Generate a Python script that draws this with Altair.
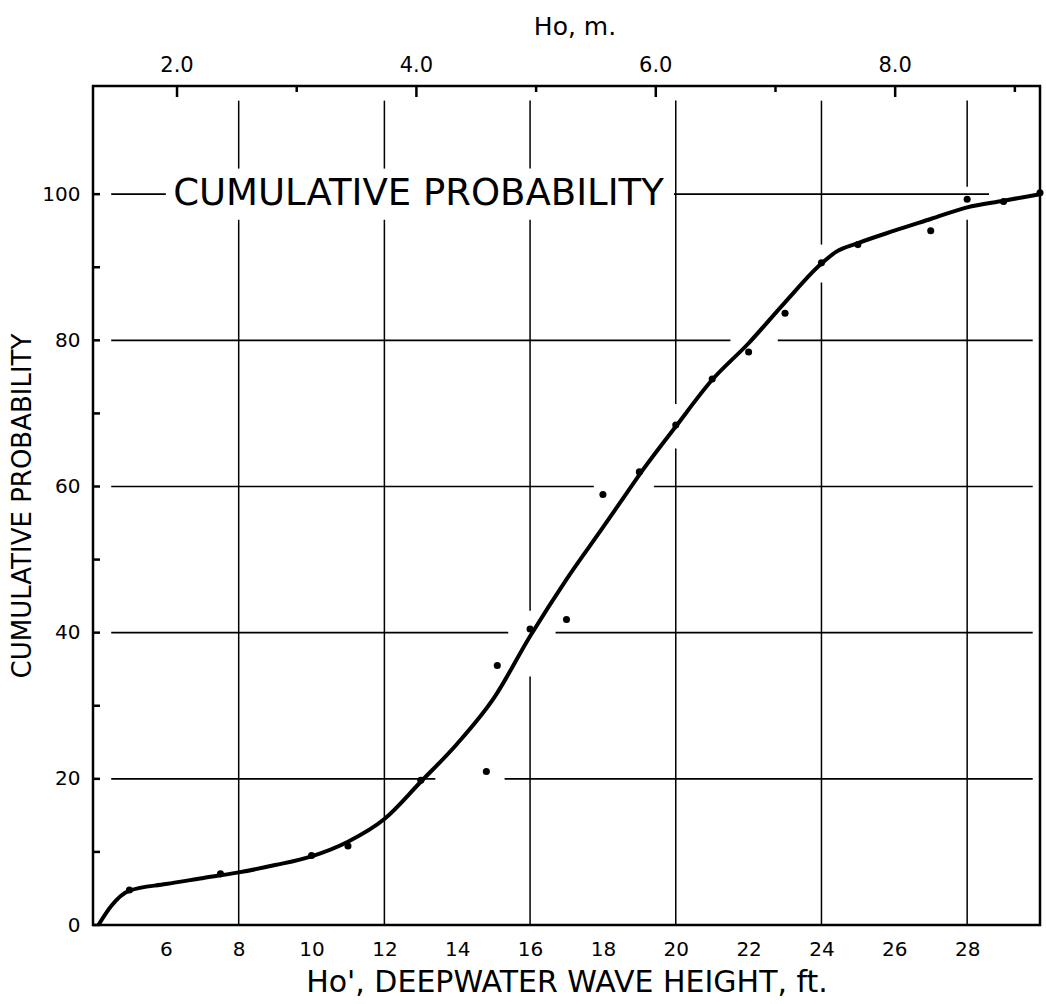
import altair as alt
import pandas as pd

# ---- data ----
# smooth fitted curve (ft, cumulative %)
curve_x = [4.15, 4.5, 5.0, 6.0, 7.0, 8.0, 9.0, 10.0, 11.0, 12.0, 13.0, 14.0, 15.0, 16.0,
           17.0, 18.0, 18.5, 19.0, 20.0, 21.0, 22.0, 23.0, 24.0, 24.4, 25.0, 26.0, 27.0,
           28.0, 29.0, 30.0]
curve_y = [0.0, 2.6, 4.7, 5.6, 6.4, 7.2, 8.2, 9.4, 11.4, 14.5, 19.6, 24.8, 31.0, 39.5,
           47.3, 54.4, 58.0, 61.6, 68.2, 74.6, 79.6, 85.2, 90.5, 92.1, 93.3, 95.0, 96.6,
           98.2, 99.1, 100.0]

# observed points
pt_x = [5.0, 7.5, 10.0, 11.0, 13.0, 14.8, 15.1, 16.0, 17.0, 18.0, 19.0, 20.0, 21.0,
        22.0, 23.0, 24.0, 25.0, 27.0, 28.0, 29.0, 30.0]
pt_y = [4.8, 7.0, 9.5, 10.8, 19.8, 21.0, 35.5, 40.5, 41.8, 58.9, 62.0, 68.4, 74.7,
        78.4, 83.7, 90.6, 93.1, 95.0, 99.3, 99.0, 100.2]

# axis ticks
x_labels = [6, 8, 10, 12, 14, 16, 18, 20, 22, 24, 26, 28]
y_labels = [0, 20, 40, 60, 80, 100]
y_ticks = [0, 10, 20, 30, 40, 50, 60, 70, 80, 90, 100]
m_major = [2.0, 4.0, 6.0, 8.0]
m_minor = [3.0, 5.0, 7.0, 9.0]
m_domain = [1.298, 9.21]   # metre scale across the top edge
ft_domain = [4, 30]

# hand-drawn grid segments (gaps where the curve / lettering cross)
vg_x = [8, 8, 12, 12, 16, 16, 16, 20, 20, 24, 24, 28, 28]
vg_y1 = [0, 103.5, 0, 103.5, 0, 43, 103.5, 0, 71.3, 0, 93.1, 0, 101]
vg_y2 = [96.5, 112.8, 96.5, 112.8, 34, 96.5, 112.8, 65.2, 112.8, 87.9, 112.8, 96.5, 112.8]

hg_y = [20, 20, 40, 40, 60, 60, 80, 80, 100, 100]
hg_x1 = [4.5, 15.3, 4.5, 16.7, 4.5, 19.4, 4.5, 22.8, 4.5, 19.95]
hg_x2 = [13.4, 29.8, 15.4, 29.8, 17.75, 29.8, 21.5, 29.8, 6.0, 28.6]

inner_title = "CUMULATIVE PROBABILITY"
inner_x = [6.2]
inner_y = [100]
top_title = ["Ho, m."]

FONT = "DejaVu Sans"

xs = alt.Scale(domain=ft_domain, nice=False, zero=False)
ys = alt.Scale(domain=[0, 114.8], nice=False, zero=False)

curve_df = pd.DataFrame({"ft": curve_x, "p": curve_y})
pts_df = pd.DataFrame({"ft": pt_x, "p": pt_y})
vg_df = pd.DataFrame({"ft": vg_x, "p": vg_y1, "p2": vg_y2})
hg_df = pd.DataFrame({"p": hg_y, "ft": hg_x1, "ft2": hg_x2})
yt_df = pd.DataFrame({"p": y_ticks})
title_df = pd.DataFrame({"ft": inner_x, "p": inner_y, "t": [inner_title]})
mmaj_df = pd.DataFrame({"m": m_major})
mmin_df = pd.DataFrame({"m": m_minor})
ttl_df = pd.DataFrame({"t": top_title})

# linear map of the metre scale onto the ft scale of the frame
m_to_ft = (f"{ft_domain[0]} + (datum.m - {m_domain[0]}) * "
           f"{ft_domain[1] - ft_domain[0]} / {m_domain[1] - m_domain[0]}")

X_TITLE = "Ho', DEEPWATER WAVE HEIGHT, ft."
Y_TITLE = "CUMULATIVE PROBABILITY"

x_axis = alt.Axis(values=x_labels, title=X_TITLE,
                  ticks=False, domain=False, grid=False, labelPadding=14,
                  titlePadding=8, labelFont=FONT, labelFontSize=20, labelColor="black",
                  titleFont=FONT, titleFontSize=30, titleColor="black",
                  titleFontWeight="normal")
y_axis = alt.Axis(values=y_labels, title=Y_TITLE,
                  ticks=False, domain=False, grid=False, labelPadding=13,
                  titlePadding=6, labelFont=FONT, labelFontSize=20, labelColor="black",
                  titleFont=FONT, titleFontSize=26, titleColor="black",
                  titleFontWeight="normal")

X = lambda f: alt.X(f, scale=xs, axis=x_axis, title=X_TITLE)
Y = lambda f: alt.Y(f, scale=ys, axis=y_axis, title=Y_TITLE)

curve = alt.Chart(curve_df).mark_line(color="black", strokeWidth=4,
                                      interpolate="monotone").encode(
    x=X("ft:Q"), y=Y("p:Q"))

vgrid = alt.Chart(vg_df).mark_rule(color="black", strokeWidth=1.5).encode(
    x=X("ft:Q"), y=Y("p:Q"), y2="p2:Q")

hgrid = alt.Chart(hg_df).mark_rule(color="black", strokeWidth=1.7).encode(
    y=Y("p:Q"), x=X("ft:Q"), x2="ft2:Q")

yticks = alt.Chart(yt_df).mark_rule(color="black", strokeWidth=2.5).encode(
    y=Y("p:Q"), x=alt.value(0), x2=alt.value(7))

points = alt.Chart(pts_df).mark_circle(color="black", size=50, opacity=1).encode(
    x=X("ft:Q"), y=Y("p:Q"))

inner = alt.Chart(title_df).mark_text(font=FONT, fontSize=37, align="left",
                                      baseline="middle", color="black").encode(
    x=X("ft:Q"), y=Y("p:Q"), text="t:N")

top_major = alt.Chart(mmaj_df).transform_calculate(ft=m_to_ft).mark_rule(
    color="black", strokeWidth=2.5).encode(
    x=X("ft:Q"), y=alt.value(0), y2=alt.value(11))
top_minor = alt.Chart(mmin_df).transform_calculate(ft=m_to_ft).mark_rule(
    color="black", strokeWidth=2.5).encode(
    x=X("ft:Q"), y=alt.value(0), y2=alt.value(6))
top_labels = alt.Chart(mmaj_df).transform_calculate(ft=m_to_ft).mark_text(
    font=FONT, fontSize=21, color="black", baseline="middle", align="center").encode(
    x=X("ft:Q"), y=alt.value(-20), text=alt.Text("m:Q", format=".1f"))
top_ttl = alt.Chart(ttl_df).mark_text(
    font=FONT, fontSize=25, color="black", baseline="middle", align="center").encode(
    x=alt.value(482), y=alt.value(-59), text="t:N")

chart = alt.layer(
    curve, vgrid, hgrid, yticks, points, inner, top_major, top_minor, top_labels, top_ttl
).properties(
    width=947, height=839,
    autosize=alt.AutoSizeParams(type="none"),
    padding={"left": 93, "top": 86, "right": 6, "bottom": 79},
    background="white",
).configure_view(
    stroke="black", strokeWidth=2.5
)

chart.save("out.html", embed_options={"renderer": "svg", "actions": False})
